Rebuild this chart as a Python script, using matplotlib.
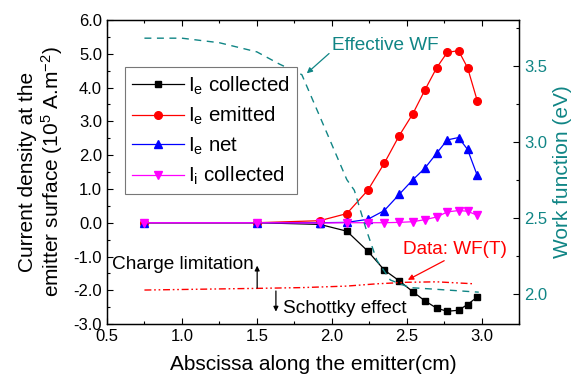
import matplotlib
matplotlib.use("Agg")
import matplotlib.pyplot as plt
from matplotlib.ticker import MultipleLocator

plt.rcParams['font.family'] = ['Liberation Sans', 'DejaVu Sans']
plt.rcParams['mathtext.fontset'] = 'custom'
plt.rcParams['mathtext.rm'] = 'Liberation Sans'
plt.rcParams['mathtext.it'] = 'Liberation Sans:italic'
plt.rcParams['mathtext.bf'] = 'Liberation Sans:bold'

# ---- data ----
x = [0.75, 1.5, 1.92, 2.1, 2.24, 2.35, 2.45, 2.54, 2.62, 2.7, 2.77, 2.845, 2.905, 2.97]
ie_collected = [0, 0, -0.05, -0.25, -0.84, -1.40, -1.72, -2.04, -2.31, -2.53, -2.62, -2.59, -2.42, -2.20]
ie_emitted = [0, 0, 0.06, 0.27, 0.96, 1.76, 2.58, 3.22, 3.92, 4.59, 5.04, 5.09, 4.59, 3.61]
ie_net = [0, 0, 0.0, 0.01, 0.10, 0.36, 0.84, 1.27, 1.61, 2.06, 2.45, 2.52, 2.17, 1.40]
ii_collected = [0, 0, -0.01, 0.0, 0.0, 0.0, 0.01, 0.03, 0.09, 0.17, 0.32, 0.36, 0.34, 0.22]

wf_x = [0.75, 1.0, 1.25, 1.5, 1.65, 1.8, 1.97, 2.1, 2.15, 2.23, 2.3, 2.39, 2.52, 2.68, 2.98]
wf_eff = [3.68, 3.68, 3.65, 3.59, 3.51, 3.44, 3.05, 2.75, 2.68, 2.42, 2.22, 2.09, 2.04, 2.03, 2.01]

wft_x = [0.75, 1.5, 1.8, 2.1, 2.3, 2.5, 2.7, 2.95]
wft_y = [2.024, 2.035, 2.04, 2.05, 2.065, 2.075, 2.078, 2.065]

labels = [r'I$_\mathregular{e}$ collected', r'I$_\mathregular{e}$ emitted',
          r'I$_\mathregular{e}$ net', r'I$_\mathregular{i}$ collected']
xticks = [0.5, 1.0, 1.5, 2.0, 2.5, 3.0]
yticks = [-3.0, -2.0, -1.0, 0.0, 1.0, 2.0, 3.0, 4.0, 5.0, 6.0]
y2ticks = [2.0, 2.5, 3.0, 3.5]

TEAL = '#108585'

fig = plt.figure(figsize=(5.75, 3.76), dpi=100)
ax = fig.add_axes([0.186, 0.138, 0.717, 0.809])
ax2 = ax.twinx()

h1, = ax.plot(x, ie_collected, '-s', color='black', lw=0.9, ms=4.8, label=labels[0], zorder=3)
h2, = ax.plot(x, ie_emitted, '-o', color='red', lw=0.9, ms=5.5, label=labels[1], zorder=4)
h3, = ax.plot(x, ie_net, '-^', color='blue', lw=0.9, ms=5.8, label=labels[2], zorder=5)
h4, = ax.plot(x, ii_collected, '-v', color='magenta', lw=0.9, ms=5.8, label=labels[3], zorder=6)

ax2.plot(wf_x, wf_eff, color=TEAL, lw=1.0, dashes=(5, 4))
ax2.plot(wft_x, wft_y, color='red', lw=1.0, dashes=(5, 2, 1.2, 2, 1.2, 2))

ax.set_xlim(0.5, 3.25)
ax.set_ylim(-3.0, 6.0)
ax2.set_ylim(1.8, 3.8)

ax.set_xticks(xticks)
ax.set_xticklabels([f'{v:.1f}' for v in xticks])
ax.set_yticks(yticks)
ax.set_yticklabels([f'{v:.1f}' for v in yticks])
ax2.set_yticks(y2ticks)
ax2.set_yticklabels([f'{v:.1f}' for v in y2ticks])
ax.xaxis.set_minor_locator(MultipleLocator(0.25))
ax.yaxis.set_minor_locator(MultipleLocator(0.5))
ax2.yaxis.set_minor_locator(MultipleLocator(0.25))

ax.tick_params(axis='x', which='both', direction='in', top=True, labelsize=12)
ax.tick_params(axis='y', which='both', direction='in', labelsize=12)
ax.tick_params(which='major', length=4, width=0.8)
ax.tick_params(which='minor', length=2.5, width=0.8)
ax2.tick_params(axis='y', which='both', direction='in', labelsize=12, labelcolor=TEAL)
ax2.tick_params(which='major', length=4, width=0.8)
ax2.tick_params(which='minor', length=2.5, width=0.8)
for a in (ax, ax2):
    for s in a.spines.values():
        s.set_linewidth(0.9)

ax.set_xlabel('Abscissa along the emitter(cm)', fontsize=15, labelpad=8)
ax.set_ylabel('Current density at the\nemitter surface (10$^\\mathregular{5}$ A.m$^\\mathregular{-2}$)',
              fontsize=15, labelpad=6, linespacing=1.1)
ax2.set_ylabel('Work function (eV)', fontsize=15, color=TEAL, labelpad=4)

leg = ax2.legend(handles=[h1, h2, h3, h4], loc='upper left', bbox_to_anchor=(0.044, 0.845),
                 borderaxespad=0, fontsize=14.8, handlelength=2.5, handletextpad=0.2,
                 labelspacing=0.4, borderpad=0.35, fancybox=False, framealpha=1)
leg.get_frame().set_edgecolor('#777777')
leg.get_frame().set_linewidth(0.8)

# annotations (left-axis data coordinates)
ax2.annotate('Effective WF', xy=(1.833, 4.42), xycoords=ax.transData,
             xytext=(2.0, 5.23), textcoords=ax.transData, fontsize=13.7, color=TEAL,
             va='center', ha='left',
             arrowprops=dict(arrowstyle='-|>', color=TEAL, lw=0.9, mutation_scale=8,
                             shrinkA=0, shrinkB=0, relpos=(0, 0.2)))
ax2.annotate('Data: WF(T)', xy=(2.507, -1.69), xycoords=ax.transData,
             xytext=(2.473, -0.79), textcoords=ax.transData, fontsize=13.7, color='red',
             va='center', ha='left',
             arrowprops=dict(arrowstyle='-|>', color='red', lw=0.9, mutation_scale=8,
                             shrinkA=0, shrinkB=0, relpos=(0.45, 0)))
ax2.text(0.531, -1.25, 'Charge limitation', transform=ax.transData, fontsize=13.7,
         va='center', ha='left', color='black')
ax2.annotate('', xy=(1.502, -1.27), xycoords=ax.transData, xytext=(1.502, -1.93),
             textcoords=ax.transData,
             arrowprops=dict(arrowstyle='-|>', color='black', lw=0.9, mutation_scale=7,
                             shrinkA=0, shrinkB=0))
ax2.text(1.675, -2.55, 'Schottky effect', transform=ax.transData, fontsize=13.7,
         va='center', ha='left', color='black')
ax2.annotate('', xy=(1.627, -2.63), xycoords=ax.transData, xytext=(1.627, -2.02),
             textcoords=ax.transData,
             arrowprops=dict(arrowstyle='-|>', color='black', lw=0.9, mutation_scale=7,
                             shrinkA=0, shrinkB=0))

fig.savefig('out.png', dpi=100)
